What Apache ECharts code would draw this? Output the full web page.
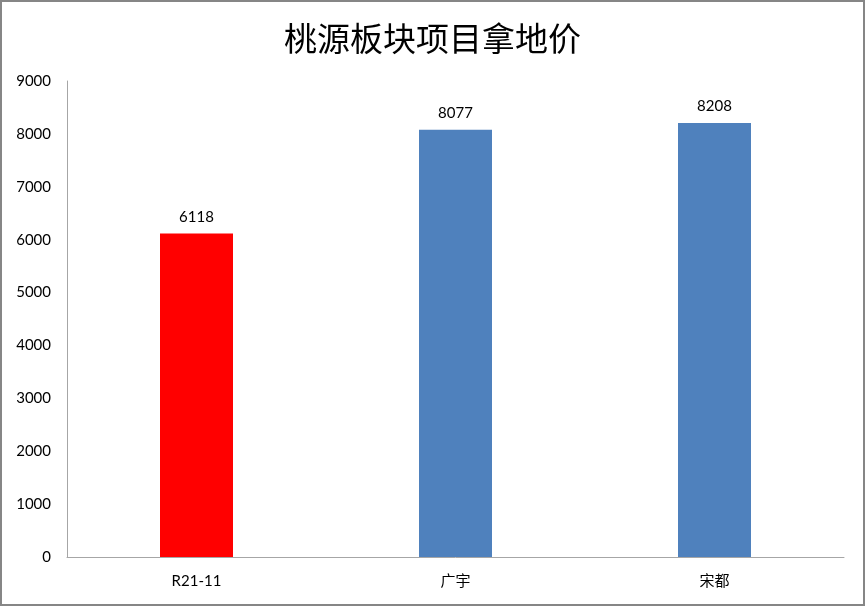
<!DOCTYPE html>
<html lang="zh">
<head>
    <meta charset="UTF-8">
    <title>桃源板块项目拿地价</title>
    <script src="https://cdn.jsdelivr.net/npm/echarts@6/dist/echarts.min.js"></script>
    <style>
        html, body { margin: 0; padding: 0; background: #fff; }
        #bar { width: 865px; height: 606px; }
    </style>
</head>
<body>
<div id="bar"></div>
<script>
    // 数据
    var categories = ['R21-11', '广宇', '宋都'];
    var prices = [6118, 8077, 8208];
    var barColors = ['#FF0000', '#4F81BD', '#4F81BD'];
    var yMin = 0, yMax = 9000, yStep = 1000;

    var myEcharts = echarts.init(document.getElementById('bar'));
    var labelFont = 'Lato, "Noto Sans CJK SC", sans-serif';

    var option = {
        animation: false,
        backgroundColor: '#fff',
        title: {
            text: '桃源板块项目拿地价',
            left: 'center',
            top: 17,
            textStyle: {
                fontFamily: '"Noto Sans CJK SC", sans-serif',
                fontSize: 33,
                fontWeight: 'normal',
                color: '#000'
            }
        },
        graphic: [{
            type: 'rect',
            shape: { x: 1, y: 1, width: 863, height: 604 },
            style: { fill: 'none', stroke: '#868686', lineWidth: 2 },
            silent: true
        }],
        grid: { left: 67, right: 21, top: 81, bottom: 49 },
        xAxis: {
            type: 'category',
            data: categories,
            axisLine: { lineStyle: { color: '#A6A6A6', width: 1 } },
            axisTick: { show: false },
            axisLabel: { color: '#000', fontSize: 15, fontFamily: labelFont, margin: 17 }
        },
        yAxis: {
            type: 'value',
            min: yMin,
            max: yMax,
            interval: yStep,
            splitLine: { show: false },
            axisLine: { show: true, lineStyle: { color: '#A6A6A6', width: 1 } },
            axisTick: { show: false },
            axisLabel: {
                color: '#000', fontSize: 15, fontFamily: labelFont, margin: 16,
                formatter: function (v) { return String(v); }
            }
        },
        series: [{
            type: 'bar',
            barWidth: 73,
            data: prices.map(function (v, i) {
                return { value: v, itemStyle: { color: barColors[i] } };
            }),
            label: {
                show: true,
                position: 'top',
                distance: 9,
                color: '#000',
                fontSize: 15,
                fontFamily: labelFont
            }
        }]
    };
    myEcharts.setOption(option);
</script>
</body>
</html>
